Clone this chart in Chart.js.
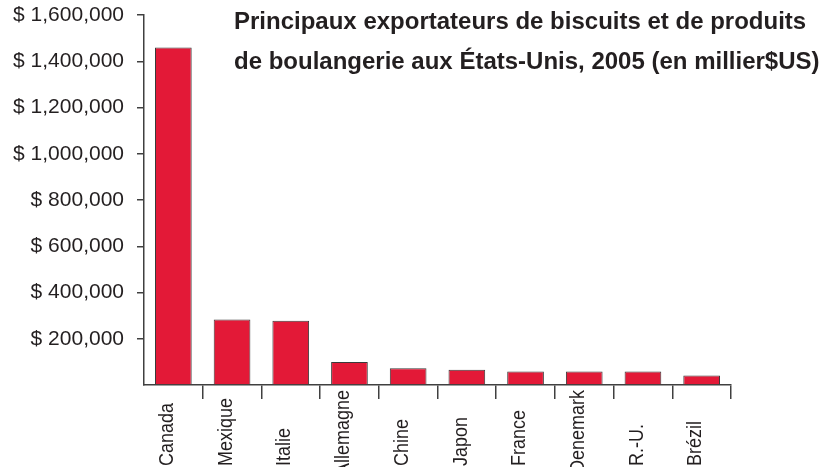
<!DOCTYPE html>
<html>
<head>
<meta charset="utf-8">
<script src="https://cdn.jsdelivr.net/npm/chart.js@4/dist/chart.umd.min.js"></script>
<style>
html,body{margin:0;padding:0;background:#ffffff;}
#wrap{position:relative;width:832px;height:467px;}
</style>
</head>
<body>
<div id="wrap"><canvas id="c" width="832" height="467"></canvas></div>
<script>
const categories = ['Canada', 'Mexique', 'Italie', 'Allemagne', 'Chine', 'Japon', 'France', 'Denemark', 'R.-U.', 'Brézil'];
const exportValues = [1460000, 283000, 278000, 100000, 72000, 66000, 58000, 58000, 58000, 41000];
const yTickValues = [200000, 400000, 600000, 800000, 1000000, 1200000, 1400000, 1600000];
const yTickLabels = ['$ 200,000', '$ 400,000', '$ 600,000', '$ 800,000', '$ 1,000,000', '$ 1,200,000', '$ 1,400,000', '$ 1,600,000'];
const titleLines = ['Principaux exportateurs de biscuits et de produits', 'de boulangerie aux États-Unis, 2005 (en millier$US)'];

const TEXT = '#231f20';
const AXIS = '#404040';
const FONT = '"Liberation Sans", Arial, Helvetica, sans-serif';

const overlayText = {
  id: 'overlayText',
  afterDraw(chart) {
    const ctx = chart.ctx;
    const xs = chart.scales.x;
    // title
    ctx.save();
    ctx.fillStyle = TEXT;
    ctx.font = 'bold 24px ' + FONT;
    ctx.textAlign = 'left';
    ctx.textBaseline = 'alphabetic';
    ctx.fillText(titleLines[0], 234, 29);
    ctx.fillText(titleLines[1], 234, 69);
    ctx.restore();
    // rotated category labels
    ctx.save();
    ctx.fillStyle = TEXT;
    ctx.font = '18px ' + FONT;
    ctx.textAlign = 'left';
    ctx.textBaseline = 'middle';
    categories.forEach((lab, i) => {
      const w = ctx.measureText(lab).width;
      const x = xs.getPixelForValue(i) - 6;
      const y = Math.max(466, 390 + w);
      ctx.save();
      ctx.translate(x, y);
      ctx.scale(1.15, 1);
      ctx.rotate(-Math.PI / 2);
      ctx.fillText(lab, 0, 0);
      ctx.restore();
    });
    ctx.restore();
  }
};

new Chart(document.getElementById('c'), {
  type: 'bar',
  data: {
    labels: categories,
    datasets: [{
      data: exportValues,
      backgroundColor: '#e31937',
      borderColor: '#3a3a3a',
      borderWidth: 1,
      categoryPercentage: 1,
      barPercentage: 0.625
    }]
  },
  options: {
    responsive: false,
    devicePixelRatio: 1,
    animation: false,
    layout: { padding: { top: 15, right: 101, left: 0, bottom: 0 } },
    plugins: { legend: { display: false }, title: { display: false }, tooltip: { enabled: false } },
    scales: {
      x: {
        offset: true,
        grid: {
          offset: true,
          drawOnChartArea: false,
          tickLength: 14,
          lineWidth: 1.5,
          color: (c) => (c.index === 0 ? 'rgba(0,0,0,0)' : AXIS)
        },
        border: { color: AXIS, width: 1.5 },
        ticks: { display: false },
        afterFit: (s) => { s.height = 82; s.paddingLeft = 0; s.paddingRight = 0; }
      },
      y: {
        min: 0,
        max: 1600000,
        afterBuildTicks: (s) => { s.ticks = [{ value: 0 }].concat(yTickValues.map(v => ({ value: v }))); },
        ticks: {
          color: TEXT,
          font: { family: FONT, size: 21 },
          padding: 13,
          callback: (v) => { const k = yTickValues.indexOf(v); return k >= 0 ? yTickLabels[k] : ''; }
        },
        grid: {
          drawOnChartArea: false,
          tickLength: 7,
          lineWidth: 1.5,
          color: (c) => (c.tick && c.tick.value === 0 ? 'rgba(0,0,0,0)' : AXIS)
        },
        border: { color: AXIS, width: 1.5 },
        afterFit: (s) => { s.width = 144; s.paddingTop = 0; s.paddingBottom = 0; }
      }
    }
  },
  plugins: [overlayText]
});
</script>
</body>
</html>
